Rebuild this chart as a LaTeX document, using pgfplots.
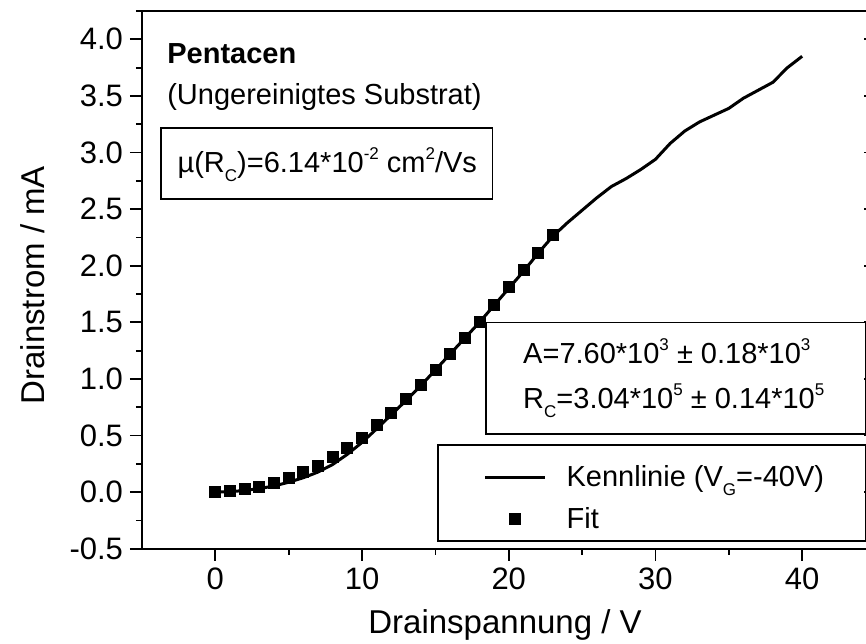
\documentclass[border=0pt]{standalone}
\usepackage{fontspec}
\setmainfont{Liberation Sans}
\usepackage{pgfplots}
\usepackage{pgfplotstable}
\pgfplotsset{compat=1.18}
\usetikzlibrary{calc}

% measured characteristic (V_G = -40 V)
\pgfplotstableread{
x y
0 0.000
1 0.005
2 0.015
3 0.032
4 0.055
5 0.088
6 0.128
7 0.178
8 0.245
9 0.335
10 0.440
11 0.560
12 0.685
13 0.810
14 0.940
15 1.080
16 1.220
17 1.360
18 1.500
19 1.650
20 1.800
21 1.950
22 2.110
23 2.260
24 2.380
25 2.490
26 2.600
27 2.700
28 2.770
29 2.850
30 2.940
31 3.080
32 3.190
33 3.270
34 3.330
35 3.390
36 3.480
37 3.550
38 3.620
39 3.750
40 3.850
}\kennlinie

% fit points
\pgfplotstableread{
x y
0 0.000
1 0.010
2 0.025
3 0.050
4 0.080
5 0.125
6 0.180
7 0.235
8 0.310
9 0.390
10 0.480
11 0.590
12 0.700
13 0.820
14 0.945
15 1.080
16 1.220
17 1.360
18 1.500
19 1.650
20 1.810
21 1.960
22 2.110
23 2.270
}\fitdata

\newcommand{\txt}{\fontsize{14.5}{17}\selectfont}
% Origin-style small, shifted scripts
\newcommand{\lo}[1]{\raisebox{-4.5pt}{\fontsize{8.5}{9}\selectfont #1}}
\newcommand{\hi}[1]{\raisebox{6.5pt}{\fontsize{8.5}{9}\selectfont #1}}
\pgfplotsset{
  leglinewide/.style={legend image code/.code={\draw[##1] (0pt,0pt) -- (30pt,0pt); \path (37pt,0pt);}},
  legmarkwide/.style={legend image code/.code={\draw[##1,mark repeat=2,mark phase=2] plot coordinates {(0pt,0pt) (15pt,0pt) (30pt,0pt)}; \path (0pt,0pt) (37pt,0pt);}},
}

\begin{document}
\begin{tikzpicture}
\begin{axis}[
    name=main,
    scale only axis,
    width=366.75pt, height=268.9pt,
    xmin=-5, xmax=45, ymin=-0.5, ymax=4.25,
    xtick={0,10,20,30,40},
    ytick distance=0.5,
    minor x tick num=1, minor y tick num=1,
    xtick pos=left, ytick pos=left,
    tick align=outside,
    major tick length=6pt, minor tick length=3pt,
    axis line style={line width=1pt},
    every tick/.style={black, line width=0.9pt},
    /pgf/number format/assume math mode=true,
    ticklabel style={font=\fontsize{15.5}{18}\selectfont},
    yticklabel style={/pgf/number format/.cd, fixed, fixed zerofill, precision=1},
    xlabel={Drainspannung / V},
    ylabel={Drainstrom / mA},
    every axis x label/.style={at={(axis description cs:0.495,-0.158)}, anchor=base,
        font=\fontsize{16.5}{19}\selectfont},
    every axis y label/.style={at={(axis description cs:-0.1486,0.49)}, anchor=center, rotate=90,
        font=\fontsize{16.5}{19}\selectfont},
    legend cell align=left,
    legend style={at={(axis cs:17.85,0.33)}, anchor=north west, draw=none, fill=none,
        font=\txt, row sep=3pt, column sep=0pt, nodes={inner sep=3pt}},
]
\addplot[black, line width=1.5pt, mark=none, leglinewide]
    table[x=x, y=y] {\kennlinie};
\addlegendentry{Kennlinie (V\lo{G}=-40V)}
\addplot[black, only marks, mark=square*, mark size=2.75pt, legmarkwide]
    table[x=x, y=y] {\fitdata};
\addlegendentry{Fit}

% annotations
\node[anchor=base west, inner sep=0pt, font=\txt] at (axis cs:-3.3,3.79) {\textbf{Pentacen}};
\node[anchor=base west, inner sep=0pt, font=\txt] at (axis cs:-3.3,3.42) {(Ungereinigtes Substrat)};
\draw[line width=0.75pt] (axis cs:-3.72,3.216) rectangle (axis cs:18.9,2.588);
\node[anchor=base west, inner sep=0pt, font=\txt] at (axis cs:-2.6,2.82)
    {µ(R\lo{C})=6.14*10\hi{-2} cm\hi{2}/Vs};
\draw[line width=0.75pt] (axis cs:18.44,1.50) rectangle (axis cs:44.35,0.512);
\node[anchor=base west, inner sep=0pt, font=\txt] at (axis cs:20.96,1.14)
    {A=7.60*10\hi{3} ± 0.18*10\hi{3}};
\node[anchor=base west, inner sep=0pt, font=\txt] at (axis cs:20.96,0.742)
    {R\lo{C}=3.04*10\hi{5} ± 0.14*10\hi{5}};
\draw[line width=0.75pt] (axis cs:15.17,0.415) rectangle (axis cs:44.35,-0.433);
\end{axis}

% right spine with inward ticks
\begin{axis}[
    scale only axis,
    width=366.75pt, height=268.9pt,
    xmin=-5, xmax=45, ymin=-0.5, ymax=4.25,
    axis x line=none, axis y line*=right,
    ytick distance=0.5, yticklabels={},
    tick align=inside, major tick length=6pt,
    axis line style={line width=1pt, -},
    every tick/.style={black, line width=0.9pt},
]
\end{axis}

\pgfresetboundingbox
\path[use as bounding box] ($(main.south west)+(-71pt,-47.5pt)$) rectangle ($(main.north west)+(362pt,5.5pt)$);
\end{tikzpicture}
\end{document}
